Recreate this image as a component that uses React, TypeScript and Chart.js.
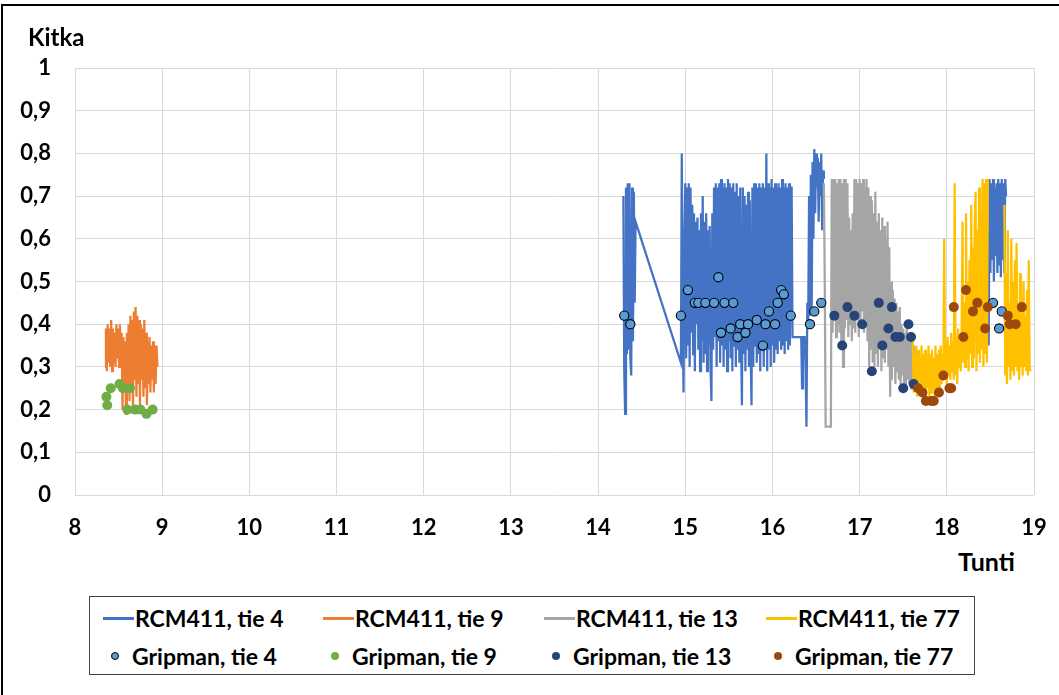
import React, { useEffect, useRef } from 'react';
import { Chart, registerables } from 'chart.js';

Chart.register(...registerables);

// ---------- data (hours on x, friction on y) ----------
const X_MIN = 8;
const X_MAX = 19;
const Y_MIN = 0;
const Y_MAX = 1;

// RCM411, tie 4 – three recorded runs (start hour, sampling step, values)
const rcm4AStart = 14.29;
const rcm4AStep = 0.01;
const rcm4A = [0.70, 0.29, 0.19, 0.72, 0.33, 0.73, 0.34, 0.73, 0.32, 0.28, 0.72, 0.36, 0.71, 0.45, 0.64];

const rcm4BStart = 14.95;
const rcm4BStep = 0.01;
const rcm4B = [
  0.31, 0.80, 0.45, 0.24, 0.60, 0.73, 0.32, 0.72, 0.35, 0.73,
  0.30, 0.72, 0.38, 0.68, 0.33, 0.66, 0.29, 0.64, 0.40, 0.65,
  0.34, 0.62, 0.29, 0.66, 0.36, 0.70, 0.31, 0.64, 0.33, 0.66,
  0.29, 0.62, 0.35, 0.63, 0.30, 0.22, 0.66, 0.34, 0.72, 0.37,
  0.73, 0.30, 0.72, 0.36, 0.73, 0.31, 0.74, 0.35, 0.72, 0.30,
  0.73, 0.34, 0.72, 0.29, 0.74, 0.36, 0.73, 0.32, 0.72, 0.29,
  0.73, 0.35, 0.71, 0.30, 0.73, 0.34, 0.70, 0.31, 0.72, 0.36,
  0.21, 0.72, 0.33, 0.70, 0.29, 0.68, 0.34, 0.71, 0.30, 0.69,
  0.33, 0.21, 0.72, 0.30, 0.73, 0.35, 0.73, 0.31, 0.72, 0.33,
  0.73, 0.29, 0.72, 0.34, 0.73, 0.30, 0.72, 0.36, 0.80, 0.29,
  0.73, 0.34, 0.72, 0.30, 0.74, 0.35, 0.72, 0.31, 0.73, 0.34,
  0.72, 0.33, 0.73, 0.36, 0.72, 0.34, 0.74, 0.35, 0.72, 0.33,
  0.73, 0.36, 0.72, 0.34, 0.73, 0.35, 0.72, 0.72, 0.37, 0.37,
  0.37, 0.37, 0.37, 0.37, 0.37, 0.37, 0.37, 0.37, 0.37, 0.25,
  0.37, 0.37, 0.37, 0.30, 0.16, 0.45, 0.40, 0.70, 0.42, 0.75,
  0.43, 0.78, 0.60, 0.81, 0.66, 0.80, 0.72, 0.79, 0.64, 0.78,
  0.70, 0.80, 0.62, 0.76, 0.74,
];

const rcm4CStart = 18.47;
const rcm4CStep = 0.01;
const rcm4C = [
  0.55, 0.35, 0.74, 0.52, 0.73, 0.55, 0.74, 0.50, 0.72, 0.56, 0.73,
  0.52, 0.74, 0.54, 0.73, 0.51, 0.74, 0.55, 0.73, 0.52, 0.74, 0.70,
];

// RCM411, tie 9
const rcm9Start = 8.345;
const rcm9Step = 0.01;
const rcm9 = [
  0.30, 0.39, 0.29, 0.40, 0.31, 0.39, 0.30, 0.41, 0.29, 0.39,
  0.31, 0.38, 0.30, 0.40, 0.32, 0.39, 0.30, 0.40, 0.31, 0.38,
  0.20, 0.37, 0.26, 0.36, 0.19, 0.38, 0.24, 0.40, 0.22, 0.42,
  0.25, 0.41, 0.20, 0.43, 0.27, 0.44, 0.23, 0.42, 0.26, 0.41,
  0.21, 0.40, 0.27, 0.39, 0.23, 0.41, 0.25, 0.38, 0.21, 0.36,
  0.26, 0.37, 0.24, 0.35, 0.27, 0.36, 0.24, 0.35, 0.26, 0.35,
  0.30,
];

// RCM411, tie 13
const rcm13Start = 16.59;
const rcm13Step = 0.01;
const rcm13 = [
  0.73, 0.50, 0.16, 0.16, 0.16, 0.16, 0.16, 0.16, 0.16, 0.74,
  0.38, 0.74, 0.42, 0.74, 0.37, 0.73, 0.40, 0.74, 0.38, 0.74,
  0.36, 0.73, 0.30, 0.74, 0.39, 0.74, 0.41, 0.73, 0.37, 0.65,
  0.40, 0.62, 0.36, 0.66, 0.39, 0.74, 0.38, 0.74, 0.42, 0.73,
  0.37, 0.74, 0.40, 0.73, 0.43, 0.74, 0.38, 0.72, 0.41, 0.74,
  0.36, 0.72, 0.30, 0.70, 0.34, 0.69, 0.31, 0.66, 0.30, 0.71,
  0.33, 0.64, 0.30, 0.66, 0.35, 0.62, 0.29, 0.65, 0.32, 0.63,
  0.31, 0.60, 0.34, 0.64, 0.30, 0.58, 0.23, 0.50, 0.27, 0.48,
  0.30, 0.46, 0.26, 0.45, 0.29, 0.43, 0.27, 0.44, 0.26, 0.40,
  0.28, 0.39, 0.26, 0.38, 0.25, 0.40, 0.27, 0.37, 0.26, 0.38,
  0.25, 0.36, 0.27, 0.35, 0.30,
];

// RCM411, tie 77 – two runs
const rcm77AStart = 17.61;
const rcm77AStep = 0.01;
const rcm77A = [
  0.36, 0.24, 0.33, 0.25, 0.35, 0.23, 0.34, 0.26, 0.32, 0.24,
  0.35, 0.23, 0.33, 0.24, 0.34, 0.22, 0.32, 0.25, 0.35, 0.23,
  0.33, 0.24, 0.34, 0.25, 0.32, 0.23, 0.35, 0.24, 0.33, 0.25,
  0.34, 0.24, 0.35, 0.26, 0.33, 0.27, 0.60, 0.28, 0.36, 0.26,
  0.37, 0.28, 0.35, 0.27, 0.38, 0.29, 0.36, 0.27, 0.73, 0.28,
  0.37, 0.26, 0.39, 0.30, 0.36, 0.29, 0.38, 0.64, 0.31, 0.45,
  0.30, 0.66, 0.32, 0.50, 0.29, 0.55, 0.33, 0.68, 0.30, 0.58,
  0.32, 0.64, 0.71, 0.29, 0.62, 0.33, 0.72, 0.31, 0.66, 0.34,
  0.74, 0.30, 0.73, 0.33, 0.74, 0.31, 0.74,
];
const rcm77BStart = 18.66;
const rcm77BStep = 0.01;
const rcm77B = [
  0.68, 0.28, 0.52, 0.26, 0.62, 0.30, 0.45, 0.27, 0.60, 0.29,
  0.50, 0.28, 0.55, 0.30, 0.59, 0.29, 0.44, 0.27, 0.52, 0.30,
  0.46, 0.28, 0.50, 0.30, 0.42, 0.29, 0.48, 0.28, 0.55, 0.30,
  0.29,
];

// Gripman measurements
const grip4X = [14.30, 14.37, 14.95, 15.03, 15.11, 15.15, 15.23, 15.33, 15.38, 15.41, 15.45, 15.52, 15.55, 15.60, 15.63, 15.69, 15.72, 15.82, 15.89, 15.92, 15.96, 16.03, 16.06, 16.10, 16.13, 16.21, 16.43, 16.48, 16.56, 18.53, 18.60, 18.63];
const grip4Y = [0.42, 0.40, 0.42, 0.48, 0.45, 0.45, 0.45, 0.45, 0.51, 0.38, 0.45, 0.39, 0.45, 0.37, 0.40, 0.38, 0.40, 0.41, 0.35, 0.40, 0.43, 0.40, 0.45, 0.48, 0.47, 0.42, 0.40, 0.43, 0.45, 0.45, 0.39, 0.43];

const grip9X = [8.36, 8.37, 8.41, 8.51, 8.55, 8.63, 8.60, 8.69, 8.75, 8.82, 8.89];
const grip9Y = [0.23, 0.21, 0.25, 0.26, 0.25, 0.25, 0.20, 0.20, 0.20, 0.19, 0.20];

const grip13X = [16.71, 16.80, 16.86, 16.94, 17.03, 17.14, 17.22, 17.26, 17.33, 17.37, 17.41, 17.46, 17.50, 17.56, 17.59, 17.62];
const grip13Y = [0.42, 0.35, 0.44, 0.42, 0.40, 0.29, 0.45, 0.35, 0.39, 0.44, 0.37, 0.37, 0.25, 0.40, 0.37, 0.26];

const grip77X = [17.67, 17.72, 17.76, 17.82, 17.85, 17.91, 17.96, 18.03, 18.05, 18.08, 18.19, 18.22, 18.30, 18.35, 18.44, 18.47, 18.70, 18.72, 18.79, 18.86];
const grip77Y = [0.25, 0.24, 0.22, 0.22, 0.22, 0.24, 0.28, 0.25, 0.25, 0.44, 0.37, 0.48, 0.43, 0.45, 0.39, 0.44, 0.42, 0.40, 0.40, 0.44];

// ---------- styling ----------
const C_RCM4 = '#4472C4';
const C_RCM9 = '#ED7D31';
const C_RCM13 = '#A5A5A5';
const C_RCM77 = '#FFC000';
const C_G4 = '#5B9BD5';
const C_G9 = '#70AD47';
const C_G13 = '#264478';
const C_G77 = '#9E480E';
const FONT = 'Lato, "Open Sans", sans-serif';

type Pt = { x: number; y: number | null };

function run(start: number, step: number, vals: number[]): Pt[] {
  return vals.map((y, i) => ({ x: Math.round((start + i * step) * 10000) / 10000, y }));
}
function pairs(xs: number[], ys: number[]): Pt[] {
  return xs.map((x, i) => ({ x, y: ys[i] }));
}

const LEGEND_LINES = [
  { label: 'RCM411, tie 4', color: C_RCM4 },
  { label: 'RCM411, tie 9', color: C_RCM9 },
  { label: 'RCM411, tie 13', color: C_RCM13 },
  { label: 'RCM411, tie 77', color: C_RCM77 },
];
const LEGEND_DOTS = [
  { label: 'Gripman, tie 4', color: C_G4, edge: true },
  { label: 'Gripman, tie 9', color: C_G9, edge: false },
  { label: 'Gripman, tie 13', color: C_G13, edge: false },
  { label: 'Gripman, tie 77', color: C_G77, edge: false },
];
const COL_X = [13, 233, 454, 676];

export default function App() {
  const ref = useRef<HTMLCanvasElement | null>(null);

  useEffect(() => {
    if (!ref.current) return;
    const line = (label: string, data: Pt[], color: string, order: number) => ({
      label,
      data,
      showLine: true,
      spanGaps: false,
      borderColor: color,
      backgroundColor: color,
      borderWidth: 2.25,
      pointRadius: 0,
      pointHoverRadius: 0,
      order,
    });
    const dots = (label: string, data: Pt[], color: string, edge: boolean, order: number) => ({
      label,
      data,
      showLine: false,
      pointRadius: edge ? 4.6 : 5,
      pointBackgroundColor: color,
      pointBorderColor: edge ? '#000000' : color,
      pointBorderWidth: edge ? 1.1 : 0,
      backgroundColor: color,
      borderColor: color,
      order,
    });

    const rcm4Data: Pt[] = [
      ...run(rcm4AStart, rcm4AStep, rcm4A),
      ...run(rcm4BStart, rcm4BStep, rcm4B),
      { x: 17.5, y: null },
      ...run(rcm4CStart, rcm4CStep, rcm4C),
    ];
    const rcm77Data: Pt[] = [
      ...run(rcm77AStart, rcm77AStep, rcm77A),
      { x: 18.56, y: null },
      ...run(rcm77BStart, rcm77BStep, rcm77B),
    ];

    const tickFont = { family: FONT, size: 22, weight: 'bold' as const };

    const chart = new Chart(ref.current, {
      type: 'scatter',
      data: {
        datasets: [
          line('RCM411, tie 4', rcm4Data, C_RCM4, 8),
          line('RCM411, tie 9', run(rcm9Start, rcm9Step, rcm9), C_RCM9, 7),
          line('RCM411, tie 13', run(rcm13Start, rcm13Step, rcm13), C_RCM13, 6),
          line('RCM411, tie 77', rcm77Data, C_RCM77, 5),
          dots('Gripman, tie 4', pairs(grip4X, grip4Y), C_G4, true, 4),
          dots('Gripman, tie 9', pairs(grip9X, grip9Y), C_G9, false, 3),
          dots('Gripman, tie 13', pairs(grip13X, grip13Y), C_G13, false, 2),
          dots('Gripman, tie 77', pairs(grip77X, grip77Y), C_G77, false, 1),
        ] as any,
      },
      options: {
        responsive: false,
        animation: false,
        events: [],
        layout: { padding: { left: 0, top: 68, right: 25, bottom: 0 } },
        plugins: { legend: { display: false }, tooltip: { enabled: false } },
        scales: {
          x: {
            type: 'linear',
            min: X_MIN,
            max: X_MAX,
            ticks: { stepSize: 1, color: '#000', font: tickFont, padding: 20, maxRotation: 0 },
            grid: { color: '#D9D9D9', lineWidth: 1, drawTicks: false },
            border: { display: false },
            afterFit: (s: any) => { s.height = 45; s.paddingLeft = 0; s.paddingRight = 0; },
          },
          y: {
            min: Y_MIN,
            max: Y_MAX,
            ticks: {
              stepSize: 0.1,
              color: '#000',
              font: tickFont,
              padding: 24,
              callback: (v: any) => String(Math.round(Number(v) * 10) / 10).replace('.', ','),
            },
            grid: { color: '#D9D9D9', lineWidth: 1, drawTicks: false },
            border: { display: false },
            afterFit: (s: any) => { s.width = 75; },
          },
        },
      } as any,
    });
    return () => chart.destroy();
  }, []);

  const textStyle: React.CSSProperties = {
    fontFamily: FONT,
    fontWeight: 700,
    fontSize: 23,
    color: '#000',
    whiteSpace: 'nowrap',
  };

  return (
    <div style={{ position: 'absolute', left: 0, top: 0, width: 1059, height: 695, overflow: 'hidden', background: '#fff' }}>
      <div style={{ position: 'absolute', left: 1, top: 4, width: 1200, height: 900, borderLeft: '2px solid #000', borderTop: '2px solid #000' }} />
      <canvas ref={ref} width={1059} height={540} style={{ position: 'absolute', left: 0, top: 0, width: 1059, height: 540 }} />
      <div style={{ position: 'absolute', left: 28, top: 25, fontFamily: FONT, fontWeight: 700, fontSize: 24, lineHeight: '24px' }}>Kitka</div>
      <div style={{ position: 'absolute', left: 958, top: 549, fontFamily: FONT, fontWeight: 700, fontSize: 25, lineHeight: '25px' }}>Tunti</div>
      <div style={{ position: 'absolute', left: 89, top: 596, width: 884, height: 77, border: '1px solid #404040', background: '#fff' }}>
        {LEGEND_LINES.map((it, i) => (
          <div key={it.label} style={{ position: 'absolute', left: COL_X[i], top: 7, height: 28, display: 'flex', alignItems: 'center' }}>
            <div style={{ width: 31, height: 3, background: it.color }} />
            <span style={{ ...textStyle, marginLeft: 1 }}>{it.label}</span>
          </div>
        ))}
        {LEGEND_DOTS.map((it, i) => (
          <div key={it.label} style={{ position: 'absolute', left: COL_X[i] + 8, top: 45, height: 28, display: 'flex', alignItems: 'center' }}>
            <div style={{ width: 8, height: 8, borderRadius: '50%', background: it.color, boxSizing: 'border-box', border: it.edge ? '1px solid #000' : 'none' }} />
            <span style={{ ...textStyle, marginLeft: 13 }}>{it.label}</span>
          </div>
        ))}
      </div>
    </div>
  );
}
